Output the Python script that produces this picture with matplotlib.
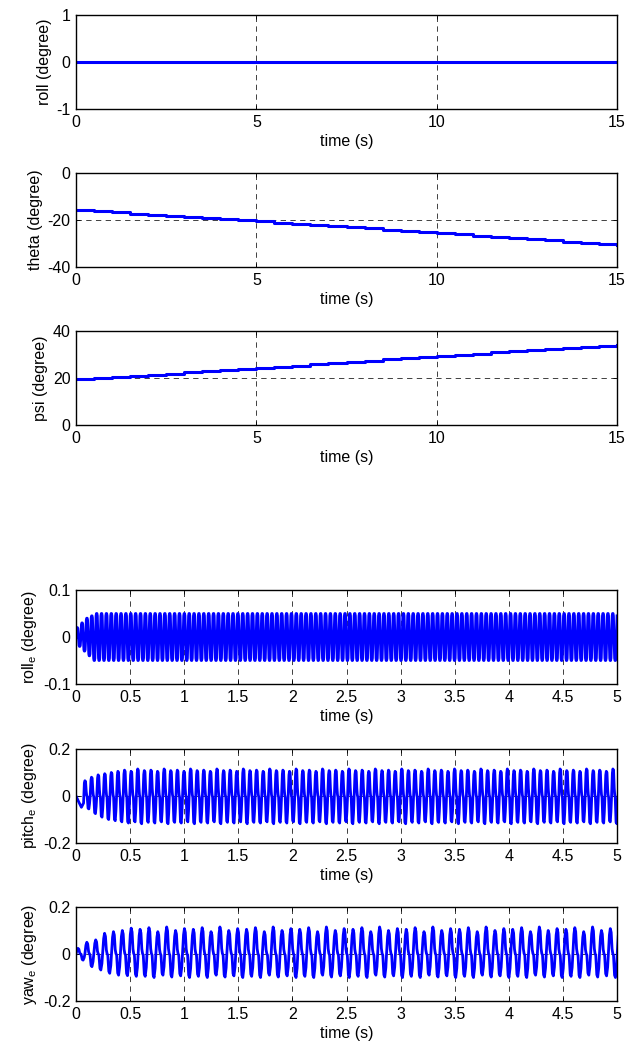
import numpy as np
import matplotlib
matplotlib.use("Agg")
import matplotlib.pyplot as plt

plt.rcParams['font.family'] = ['Liberation Sans', 'DejaVu Sans']
plt.rcParams['mathtext.default'] = 'regular'
plt.rcParams['axes.unicode_minus'] = False
plt.rcParams['font.size'] = 11

# ---------------- data: attitude (0-15 s, staircase every 0.5 s) ----------------
att_time = [0.0, 0.5, 1.0, 1.5, 2.0, 2.5, 3.0, 3.5, 4.0, 4.5, 5.0, 5.5, 6.0, 6.5, 7.0, 7.5,
            8.0, 8.5, 9.0, 9.5, 10.0, 10.5, 11.0, 11.5, 12.0, 12.5, 13.0, 13.5, 14.0, 14.5, 15.0]
roll = [0.0] * 31
theta = [-15.8, -16.3, -16.8, -17.3, -17.8, -18.3, -18.8, -19.2, -19.7, -20.2, -20.6,
         -21.1, -21.6, -22.1, -22.6, -23.1, -23.6, -24.1, -24.6, -25.1, -25.6,
         -26.1, -26.6, -27.1, -27.6, -28.2, -28.7, -29.2, -29.7, -30.2, -30.7]
psi = [19.4, 19.9, 20.4, 20.9, 21.4, 21.9, 22.4, 22.9, 23.4, 23.8, 24.3,
       24.8, 25.3, 25.9, 26.4, 26.9, 27.4, 27.9, 28.4, 29.0, 29.5,
       30.0, 30.4, 30.9, 31.4, 31.8, 32.3, 32.8, 33.3, 33.7, 34.2]

# ---------------- data: tracking errors (0-5 s, oscillations) ----------------
# per-cycle peak / trough values
roll_e_period = 0.045
roll_e_start_t = [0.0]
roll_e_start_v = [0.0]
roll_e_peaks = [0.02, 0.03, 0.04, 0.045] + [0.05] * 110
roll_e_troughs = [-0.02, -0.03, -0.04, -0.05] + [-0.05] * 110

pitch_e_period = 0.061
pitch_e_start_t = [0.0, 0.02, 0.05, 0.07]
pitch_e_start_v = [0.0, -0.02, -0.048, -0.03]
pitch_e_peaks = [0.065, 0.08, 0.09, 0.095, 0.10, 0.105] + [0.11, 0.105, 0.115, 0.108] * 22
pitch_e_troughs = [-0.055, -0.075, -0.09, -0.10, -0.105, -0.11] + [-0.115, -0.11, -0.118, -0.112] * 22

yaw_e_period = 0.082
yaw_e_start_t = [0.0]
yaw_e_start_v = [0.0]
yaw_e_peaks = [0.024, 0.05, 0.06, 0.088, 0.095, 0.10, 0.11] + [0.105, 0.112, 0.095, 0.115, 0.10, 0.108] * 10
yaw_e_troughs = [-0.026, -0.054, -0.068, -0.082, -0.09, -0.092, -0.095] + [-0.095, -0.1, -0.09, -0.098, -0.093, -0.1] * 10

# within-cycle shape templates (phase fraction, normalised value)
roll_shape_ph = [0.0, 0.12, 0.2, 0.3, 0.38, 0.5, 0.62, 0.7, 0.8, 0.88]
roll_shape_v = [0.0, 0.9, 1.0, 1.0, 0.9, 0.0, -0.9, -1.0, -1.0, -0.9]
pitch_shape_ph = [0.0, 0.12, 0.2, 0.3, 0.4, 0.47, 0.55, 0.68, 0.8, 0.9]
pitch_shape_v = [0.0, 0.85, 1.0, 0.95, 0.3, 0.05, -0.05, -0.95, -1.0, -0.6]
yaw_shape_ph = [0.0, 0.12, 0.22, 0.32, 0.42, 0.5, 0.58, 0.7, 0.8, 0.92]
yaw_shape_v = [0.0, 0.75, 1.0, 0.85, 0.2, 0.02, -0.05, -0.9, -1.0, -0.6]


def build_wave(start_t, start_v, peaks, troughs, period, ph, sv):
    t = list(start_t)
    y = list(start_v)
    t0 = start_t[-1]
    for k, (p, q) in enumerate(zip(peaks, troughs)):
        for f, v in zip(ph, sv):
            if k == 0 and f == 0.0 and len(start_t) > 1:
                continue
            t.append(t0 + (k + f) * period)
            y.append(v * p if v >= 0 else -v * q)
    return np.array(t), np.array(y)


fig = plt.figure(figsize=(6.32, 10.51), dpi=100)

L, W, H = 76 / 632, 541 / 632, 94 / 1051
bottoms_px = [109, 267, 425, 684, 843, 1001]
blue = (0, 0, 1)
grid_kw = dict(color=(0.25, 0.25, 0.25), linestyle=(0, (5.5, 4.5)), linewidth=0.7)
FS = 11.5


def style(ax):
    for s in ax.spines.values():
        s.set_linewidth(1.0)
        s.set_color('black')
    ax.tick_params(direction='in', length=3, width=0.6, top=True, right=True,
                   labelsize=FS, pad=4)
    ax.grid(True, **grid_kw)
    ax.set_axisbelow(True)


axes = [fig.add_axes([L, 1 - b / 1051, W, H]) for b in bottoms_px]

att_series = [roll, theta, psi]
att_labels = ['roll (degree)', 'theta (degree)', 'psi (degree)']
att_ylims = [(-1, 1), (-40, 0), (0, 40)]
att_yticks = [[-1, 0, 1], [-40, -20, 0], [0, 20, 40]]
for ax, s, lab, yl, yt in zip(axes[:3], att_series, att_labels, att_ylims, att_yticks):
    ax.plot(att_time, s, color=blue, linewidth=2.2, drawstyle='steps-post')
    ax.set_xlim(0, 15)
    ax.set_ylim(*yl)
    ax.set_xticks([0, 5, 10, 15])
    ax.set_yticks(yt)
    ax.set_ylabel(lab, fontsize=FS, labelpad=3)
    ax.set_xlabel('time (s)', fontsize=FS, labelpad=3)
    style(ax)

waves = [
    build_wave(roll_e_start_t, roll_e_start_v, roll_e_peaks, roll_e_troughs, roll_e_period,
               roll_shape_ph, roll_shape_v),
    build_wave(pitch_e_start_t, pitch_e_start_v, pitch_e_peaks, pitch_e_troughs, pitch_e_period,
               pitch_shape_ph, pitch_shape_v),
    build_wave(yaw_e_start_t, yaw_e_start_v, yaw_e_peaks, yaw_e_troughs, yaw_e_period,
               yaw_shape_ph, yaw_shape_v),
]
err_labels = ['roll$_e$ (degree)', 'pitch$_e$ (degree)', 'yaw$_e$ (degree)']
err_ylims = [(-0.1, 0.1), (-0.2, 0.2), (-0.2, 0.2)]
err_yticks = [[-0.1, 0, 0.1], [-0.2, 0, 0.2], [-0.2, 0, 0.2]]
err_xticks = [0, 0.5, 1, 1.5, 2, 2.5, 3, 3.5, 4, 4.5, 5]
err_xticklabels = ['0', '0.5', '1', '1.5', '2', '2.5', '3', '3.5', '4', '4.5', '5']
for ax, (t, y), lab, yl, yt in zip(axes[3:], waves, err_labels, err_ylims, err_yticks):
    ax.plot(t, y, color=blue, linewidth=2.0)
    ax.set_xlim(0, 5)
    ax.set_ylim(*yl)
    ax.set_xticks(err_xticks)
    ax.set_xticklabels(err_xticklabels)
    ax.set_yticks(yt)
    ax.set_yticklabels([f'{v:g}' for v in yt])
    ax.set_ylabel(lab, fontsize=FS, labelpad=3)
    ax.set_xlabel('time (s)', fontsize=FS, labelpad=3)
    style(ax)

fig.savefig('out.png', dpi=100)
